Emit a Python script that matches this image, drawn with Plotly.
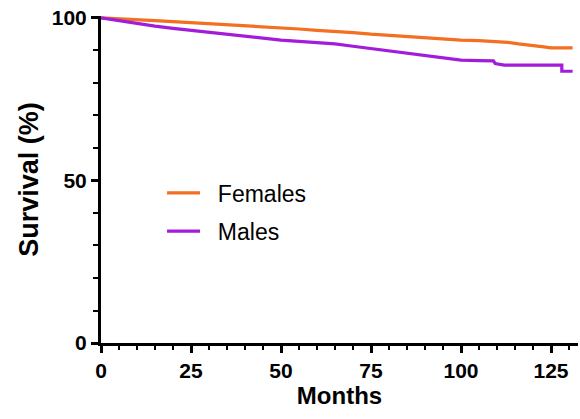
import plotly.graph_objects as go

# Kaplan-Meier style survival estimates
female_months = [0, 5, 10, 15, 20, 25, 30, 35, 40, 45, 50, 55, 60, 65, 70, 75, 80, 85,
                 90, 95, 100, 105, 110, 113, 116, 120, 123, 125, 131]
female_surv = [100, 99.8, 99.5, 99.2, 98.9, 98.6, 98.3, 98.0, 97.6, 97.2, 96.9, 96.6,
               96.2, 95.9, 95.5, 95.0, 94.6, 94.3, 93.9, 93.5, 93.2, 93.0, 92.7, 92.5,
               92.0, 91.6, 91.1, 90.8, 90.8]

male_months = [0, 5, 10, 15, 20, 25, 30, 35, 40, 45, 50, 55, 60, 65, 70, 75, 80, 85,
               90, 95, 100, 105, 109, 109.5, 112, 128, 128, 131]
male_surv = [100, 99.1, 98.2, 97.5, 96.8, 96.2, 95.6, 95.0, 94.4, 93.7, 93.2, 92.8,
             92.4, 92.0, 91.3, 90.6, 89.8, 89.0, 88.3, 87.6, 87.0, 86.9, 86.8, 86.0,
             85.5, 85.5, 83.6, 83.6]

x_ticks = [0, 25, 50, 75, 100, 125]
y_ticks = [0, 50, 100]
series_names = ["Females", "Males"]

FONT = "Arial, Liberation Sans, Helvetica, sans-serif"
ORANGE = "#F36F21"
PURPLE = "#A21CDA"
PAD = "\u00a0\u00a0"  # visual gap between legend line and label

fig = go.Figure()
fig.add_trace(go.Scatter(x=female_months, y=female_surv, mode="lines", name=PAD + series_names[0],
                         line=dict(color=ORANGE, width=3.2), legend="legend"))
fig.add_trace(go.Scatter(x=male_months, y=male_surv, mode="lines", name=PAD + series_names[1],
                         line=dict(color=PURPLE, width=3.2), legend="legend2"))

axis_common = dict(
    showgrid=False, zeroline=False, showline=True, linecolor="black", linewidth=3,
    ticks="outside", ticklen=7, tickwidth=2.5, tickcolor="black", automargin=False,
    tickfont=dict(family=FONT, size=21, color="black", weight="bold"),
)

legend_common = dict(xanchor="left", yanchor="middle", itemwidth=33,
                     font=dict(family=FONT, size=23, color="black"),
                     bgcolor="rgba(0,0,0,0)", borderwidth=0)

fig.update_layout(
    width=580, height=419,
    margin=dict(l=101, r=2, t=16, b=76),
    paper_bgcolor="white", plot_bgcolor="white",
    showlegend=True,
    xaxis=dict(range=[0, 132.5], tickvals=x_ticks,
               minor=dict(dtick=5, ticks="outside", ticklen=4, tickwidth=2, tickcolor="black"),
               title=dict(text="Months", font=dict(family=FONT, size=24, color="black", weight="bold"),
                          standoff=2),
               **axis_common),
    yaxis=dict(range=[0, 100.6], tickvals=y_ticks,
               minor=dict(dtick=10, ticks="outside", ticklen=5, tickwidth=2, tickcolor="black"),
               title=dict(text="Survival (%)", font=dict(family=FONT, size=27, color="black", weight="bold"),
                          standoff=6),
               **axis_common),
    legend=dict(x=0.128, y=0.459, **legend_common),
    legend2=dict(x=0.128, y=0.342, **legend_common),
)

fig.write_html("out.html", config={"displayModeBar": False},
               post_script="document.body.style.margin='0';document.body.style.padding='0';")
